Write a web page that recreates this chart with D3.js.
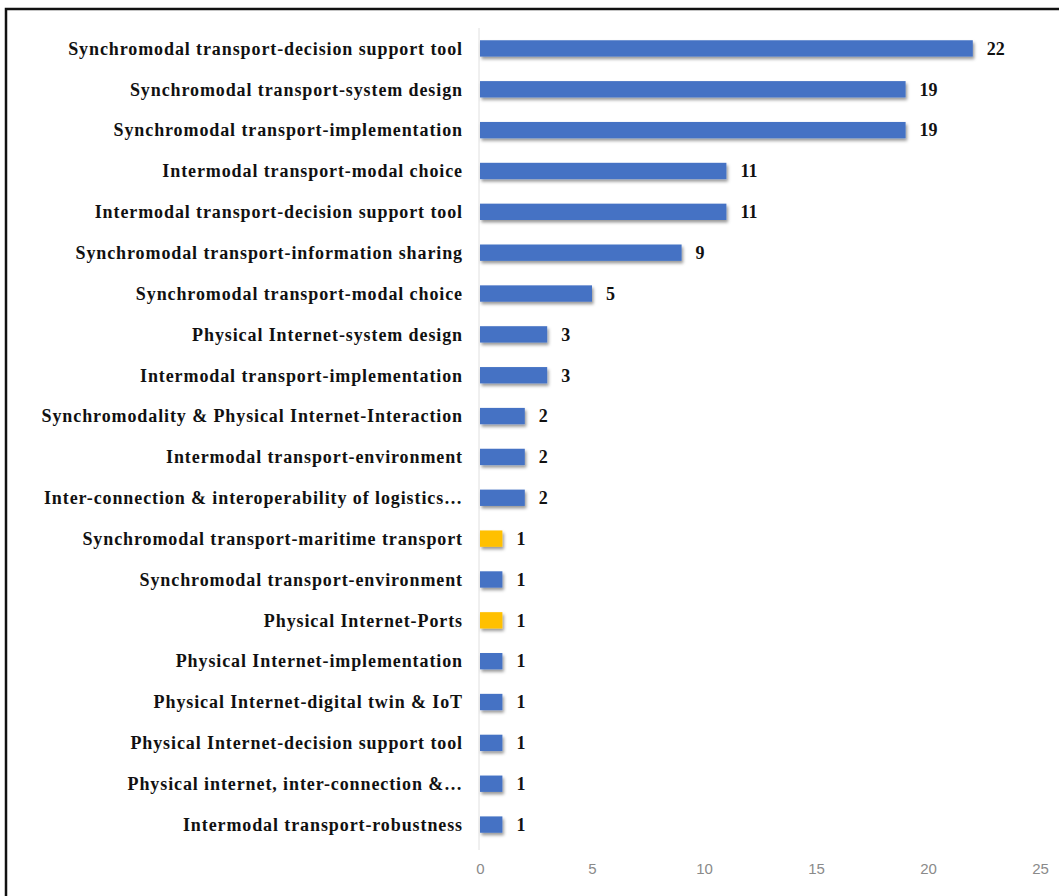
<!DOCTYPE html>
<html>
<head>
<meta charset="utf-8">
<script src="https://cdn.jsdelivr.net/npm/d3@7"></script>
<style>
  html, body { margin: 0; padding: 0; background: #fff; }
  svg { display: block; }
  .cat { font-family: "Liberation Serif", "Times New Roman", serif; font-weight: bold; font-size: 18px; letter-spacing: 0.9px; fill: #111; }
  .val { font-family: "Liberation Serif", "Times New Roman", serif; font-weight: bold; font-size: 18px; fill: #111; }
  .axis text { font-family: "Liberation Sans", Arial, sans-serif; font-size: 15px; fill: #8a8a8a; }
</style>
</head>
<body>
<svg id="chart" width="1059" height="896"></svg>
<script>
const categories = [
  "Synchromodal transport-decision support tool",
  "Synchromodal transport-system design",
  "Synchromodal transport-implementation",
  "Intermodal transport-modal choice",
  "Intermodal transport-decision support tool",
  "Synchromodal transport-information sharing",
  "Synchromodal transport-modal choice",
  "Physical Internet-system design",
  "Intermodal transport-implementation",
  "Synchromodality & Physical Internet-Interaction",
  "Intermodal transport-environment",
  "Inter-connection & interoperability of logistics\u2026",
  "Synchromodal transport-maritime transport",
  "Synchromodal transport-environment",
  "Physical Internet-Ports",
  "Physical Internet-implementation",
  "Physical Internet-digital twin & IoT",
  "Physical Internet-decision support tool",
  "Physical internet, inter-connection &\u2026",
  "Intermodal transport-robustness"
];
const counts = [22, 19, 19, 11, 11, 9, 5, 3, 3, 2, 2, 2, 1, 1, 1, 1, 1, 1, 1, 1];
const highlighted = [false, false, false, false, false, false, false, false, false, false,
  false, false, true, false, true, false, false, false, false, false];
const xTicks = [0, 5, 10, 15, 20, 25];

const svg = d3.select("#chart");

// frame of the original screenshot
svg.append("rect").attr("x", 6).attr("y", 9).attr("width", 1060).attr("height", 900)
  .attr("fill", "none").attr("stroke", "#111").attr("stroke-width", 2.5);

const defs = svg.append("defs");
const shadow = defs.append("filter").attr("id", "shadow")
  .attr("x", "-10%").attr("y", "-40%").attr("width", "130%").attr("height", "200%");
shadow.append("feDropShadow").attr("dx", 1.5).attr("dy", 2.5).attr("stdDeviation", 1.8)
  .attr("flood-color", "#000").attr("flood-opacity", 0.4);

const left = 480;
const x = d3.scaleLinear().domain([0, 25]).range([left, left + 560]);
const y = d3.scaleBand().domain(categories).range([28, 845]).paddingInner(0.6).paddingOuter(0.3);

// vertical axis line
svg.append("line").attr("x1", left - 1).attr("x2", left - 1)
  .attr("y1", 28).attr("y2", 850).attr("stroke", "#e0e0e0").attr("stroke-width", 1);

const rows = svg.append("g");
categories.forEach((c, i) => {
  const yc = y(c) + y.bandwidth() / 2;
  rows.append("text").attr("class", "cat")
    .attr("x", 463).attr("y", yc).attr("dy", "0.35em")
    .attr("text-anchor", "end").text(c);
  rows.append("rect")
    .attr("x", x(0)).attr("y", y(c))
    .attr("width", x(counts[i]) - x(0)).attr("height", y.bandwidth())
    .attr("fill", highlighted[i] ? "#ffc000" : "#4472c4")
    .attr("filter", "url(#shadow)");
  rows.append("text").attr("class", "val")
    .attr("x", x(counts[i]) + 14).attr("y", yc).attr("dy", "0.35em")
    .text(counts[i]);
});

const axis = svg.append("g").attr("class", "axis")
  .attr("transform", "translate(0,857)")
  .call(d3.axisBottom(x).tickValues(xTicks).tickSize(0).tickPadding(6));
axis.select(".domain").remove();
</script>
</body>
</html>
